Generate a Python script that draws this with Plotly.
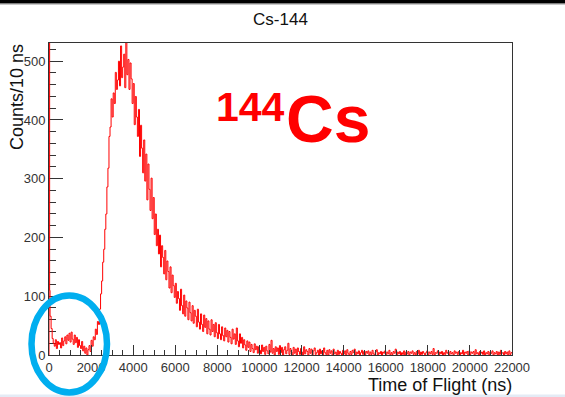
import plotly.graph_objects as go

# ---------------- data ----------------
bin_width_ns = 50
first_bin_width_ns = 30          # first (off-scale) bin at the very start
first_bin_counts = 900
# counts per 50 ns bin, starting right after the first bin (20 values per microsecond)
counts = [
    110, 66, 45, 28, 20, 15, 26, 11, 23, 18, 21, 12, 29, 16, 24, 31, 19, 34, 25, 37,                   # 0-1 us
    22, 39, 27, 18, 34, 21, 30, 13, 26, 16, 11, 23, 7, 15, 3, 12, 0, 9, 16, 6,                         # 1-2 us
    25, 15, 31, 26, 44, 35, 57, 52, 78, 104, 126, 158, 180, 214, 240, 286, 318, 372, 388, 436,         # 2-3 us
    405, 446, 428, 481, 452, 468, 500, 458, 526, 472, 490, 512, 455, 548, 477, 503, 452, 497, 470, 428,  # 3-4 us
    462, 392, 440, 405, 372, 418, 338, 391, 352, 310, 366, 296, 342, 264, 325, 282, 246, 301, 232, 268,  # 4-5 us
    205, 240, 186, 214, 172, 204, 150, 186, 166, 138, 178, 128, 160, 142, 114, 150, 106, 136, 118, 98,   # 5-6 us
    122, 88, 108, 96, 76, 112, 84, 70, 102, 66, 92, 80, 60, 90, 72, 58, 84, 54, 76, 66,                # 6-7 us
    48, 78, 56, 44, 70, 52, 40, 68, 47, 62, 36, 58, 44, 34, 60, 40, 52, 31, 55, 38,                    # 7-8 us
    28, 52, 36, 26, 48, 33, 24, 46, 31, 42, 22, 40, 30, 19, 44, 27, 36, 18, 46, 24,                    # 8-9 us
    14, 36, 20, 30, 12, 26, 17, 8, 24, 13, 22, 6, 18, 11, 4, 19, 9, 15, 3, 14,                         # 9-10 us
    8, 2, 17, 6, 13, 1, 15, 7, 2, 18, 5, 25, 3, 11, 0, 14, 6, 12, 1, 16,                               # 10-11 us
    4, 13, 0, 9, 14, 2, 8, 20, 1, 11, 5, 0, 13, 3, 10, 0, 12, 6, 1, 11,                                # 11-12 us
    5, 0, 14, 2, 9, 6, 0, 11, 3, 10, 0, 7, 12, 1, 4, 8, 0, 10, 2, 7,                                   # 12-13 us
    0, 12, 4, 1, 8, 0, 9, 3, 7, 0, 10, 2, 5, 0, 8, 1, 6, 3, 0, 8,                                      # 13-14 us
    2, 7, 0, 9, 3, 0, 6, 1, 8, 4, 10, 0, 5, 2, 7, 0, 4, 8, 1, 6,                                       # 14-15 us
    0, 6, 3, 7, 0, 5, 1, 8, 2, 0, 5, 9, 0, 4, 2, 6, 0, 5, 3, 7,                                        # 15-16 us
    0, 5, 2, 8, 0, 4, 1, 6, 3, 10, 0, 5, 2, 6, 0, 4, 1, 7, 0, 5,                                       # 16-17 us
    2, 6, 0, 5, 3, 7, 1, 4, 0, 6, 2, 8, 0, 5, 1, 6, 3, 0, 4, 7,                                        # 17-18 us
    0, 5, 2, 6, 1, 11, 0, 4, 3, 7, 0, 5, 2, 6, 0, 4, 1, 8, 3, 5,                                       # 18-19 us
    0, 6, 2, 4, 0, 7, 3, 5, 1, 6, 0, 4, 2, 8, 0, 5, 3, 6, 0, 7,                                        # 19-20 us
    1, 5, 3, 6, 0, 9, 2, 4, 0, 6, 3, 5, 1, 7, 0, 4, 2, 6, 0, 5,                                        # 20-21 us
    3, 7, 0, 4, 2, 6, 0, 5, 1, 8, 3, 4, 0, 6, 2, 5, 0, 7, 1, 4,                                        # 21-22 us
]
x_range_ns = [0, 22000]
y_range_counts = [0, 531]
x_tick_step = 2000
y_tick_step = 100

title_text = "Cs-144"
x_title = "Time of Flight (ns)"
y_title = "Counts/10 ns"
label_mass = "144"
label_elem = "Cs"

# ---------------- build the step histogram ----------------
edges = [0, first_bin_width_ns] + [bin_width_ns * (i + 1) for i in range(len(counts) - 1)]
values = [first_bin_counts] + counts
xs = [0] + edges + [x_range_ns[1]]
ys = [0] + values + [values[-1]]

# ---------------- layout geometry (pixels) ----------------
W, H = 565, 397
L, R, T, B = 49, 512, 43, 355
PW, PH = R - L, B - T


def px(x):
    return (x - L) / PW


def py(y):
    return (B - y) / PH


FONT = "Liberation Sans, Arial, sans-serif"
AX = "#333333"

fig = go.Figure()
fig.add_trace(go.Scatter(
    x=xs, y=ys, mode="lines", line=dict(color="#ff0000", width=1, shape="hv"),
    hoverinfo="skip", showlegend=False,
))

axis_common = dict(
    showgrid=False, zeroline=False, showline=True, linecolor=AX, linewidth=1,
    mirror=True, ticks="inside", tickcolor=AX, tickwidth=1, tickformat="d",
    tickfont=dict(family=FONT, size=13, color=AX),
)
fig.update_xaxes(range=x_range_ns, tick0=0, dtick=x_tick_step, ticklen=10,
                 minor=dict(dtick=500, ticks="inside", ticklen=5, tickcolor=AX, showgrid=False),
                 **axis_common)
fig.update_yaxes(range=y_range_counts, tick0=0, dtick=y_tick_step, ticklen=14,
                 minor=dict(dtick=20, ticks="inside", ticklen=7, tickcolor=AX, showgrid=False),
                 layer="below traces", **axis_common)

shapes = [
    # top dark bar of the screenshot
    dict(type="rect", xref="paper", yref="paper", x0=px(0), x1=px(W), y0=py(3.5), y1=py(0),
         fillcolor="black", line=dict(width=0), layer="above"),
    dict(type="line", xref="paper", yref="paper", x0=px(0), x1=px(W), y0=py(4.5), y1=py(4.5),
         line=dict(color="#c8c8c8", width=1)),
    # bottom light strip
    dict(type="rect", xref="paper", yref="paper", x0=px(0), x1=px(W), y0=py(397), y1=py(394.5),
         fillcolor="#e4ebf5", line=dict(width=0)),
    # blue highlight ellipse
    dict(type="circle", xref="paper", yref="paper", x0=px(31.5), x1=px(107), y0=py(392.5), y1=py(295.5),
         line=dict(color="#00aeef", width=6.5), layer="above"),
]

annotations = [
    dict(text=x_title, xref="paper", yref="paper", x=px(513), y=py(385), xanchor="right",
         yanchor="middle", showarrow=False, borderpad=0, font=dict(family=FONT, size=18, color="#111")),
    dict(text=y_title, xref="paper", yref="paper", x=px(17), y=py(43), xanchor="center",
         yanchor="top", textangle=-90, showarrow=False, borderpad=0,
         font=dict(family=FONT, size=18, color="#111")),
    dict(text="<b>" + label_mass + "</b>", xref="paper", yref="paper", x=px(215), y=py(130.5),
         xanchor="left", yanchor="bottom", showarrow=False, borderpad=0,
         font=dict(family=FONT, size=41, color="#ff0000")),
    dict(text="<b>" + label_elem + "</b>", xref="paper", yref="paper", x=px(285), y=py(157),
         xanchor="left", yanchor="bottom", showarrow=False, borderpad=0,
         font=dict(family=FONT, size=66, color="#ff0000")),
]

fig.update_layout(
    width=W, height=H, margin=dict(l=L, r=W - R, t=T, b=H - B),
    paper_bgcolor="white", plot_bgcolor="white",
    title=dict(text=title_text, x=0.5, xref="paper", xanchor="center",
               y=1 - 19 / H, yref="container", yanchor="middle",
               font=dict(family=FONT, size=17, color="#111")),
    shapes=shapes, annotations=annotations, showlegend=False,
)

fig.write_html("out.html", config={"displayModeBar": False})
